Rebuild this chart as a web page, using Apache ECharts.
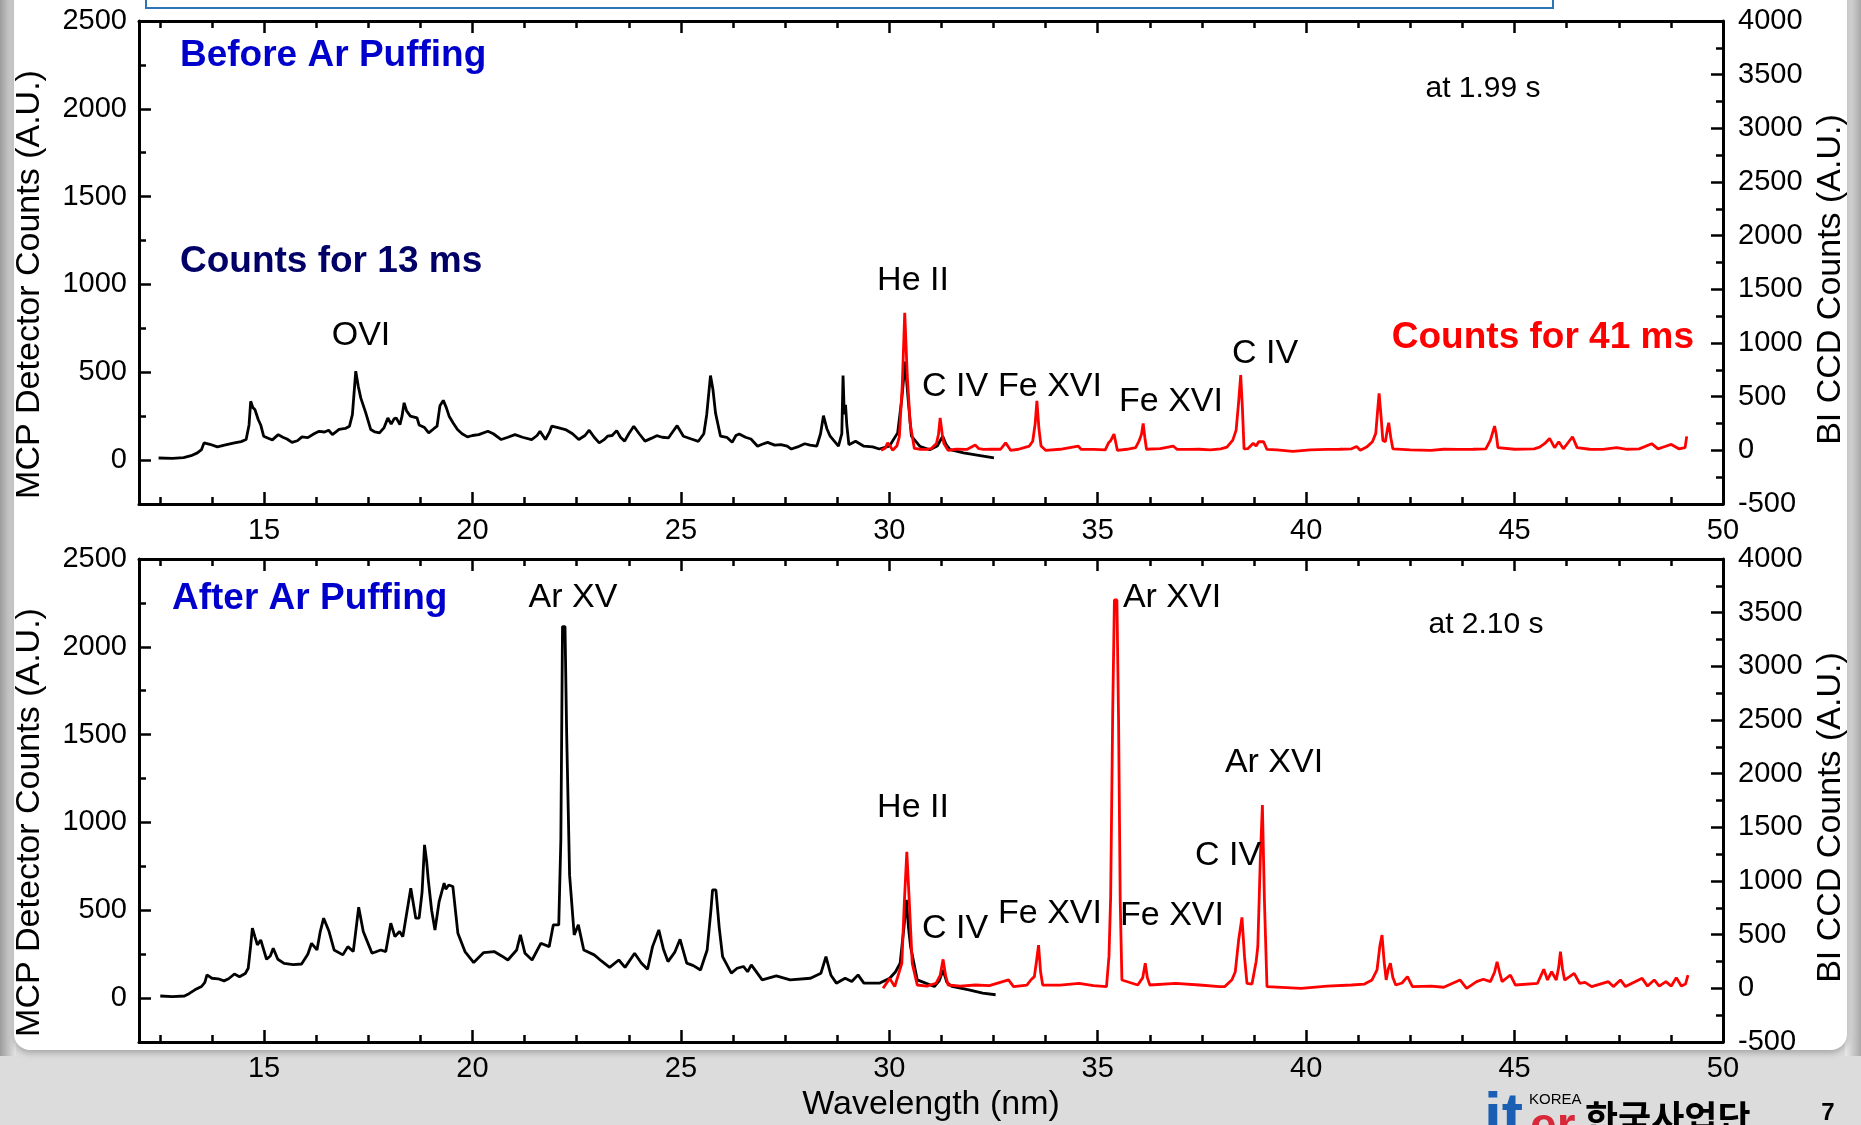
<!DOCTYPE html>
<html>
<head>
<meta charset="utf-8">
<title>EUV spectra before / after Ar puffing</title>
<script src="https://cdn.jsdelivr.net/npm/echarts@6/dist/echarts.min.js"></script>
<style>
  html, body { margin: 0; padding: 0; background: #dcdcdc; }
  #chart { width: 1861px; height: 1125px; }
</style>
</head>
<body>
<div id="chart"></div>
<script>
// ---- axis ticks ----
var xMajor = [15, 20, 25, 30, 35, 40, 45, 50];
var xMinor = [12.5, 13.75, 16.25, 17.5, 18.75, 21.25, 22.5, 23.75, 26.25, 27.5, 28.75,
  31.25, 32.5, 33.75, 36.25, 37.5, 38.75, 41.25, 42.5, 43.75, 46.25, 47.5, 48.75];
var leftMajor = [0, 500, 1000, 1500, 2000, 2500];
var leftMinor = [250, 750, 1250, 1750, 2250];
var rightMajor = [-500, 0, 500, 1000, 1500, 2000, 2500, 3000, 3500, 4000];
var rightMinor = [-250, 250, 750, 1250, 1750, 2250, 2750, 3250, 3750];

// ---- before Ar puffing (1.99 s) ----
// MCP detector, [wavelength nm, counts]
var mcpBefore = [[12.47,12],[12.8,10],[13.07,14],[13.25,25],[13.4,41],[13.5,60],[13.56,98],[13.7,90],[13.88,75],[14.05,85],
  [14.29,98],[14.45,105],[14.57,117],[14.64,200],[14.68,335],[14.73,300],[14.78,288],[14.86,231],[14.92,200],[14.99,136],
  [15.1,124],[15.2,115],[15.34,145],[15.45,130],[15.55,120],[15.67,101],[15.8,110],[15.91,132],[16.05,128],[16.2,150],
  [16.32,164],[16.45,160],[16.55,170],[16.64,145],[16.8,175],[16.95,180],[17.05,193],[17.12,260],[17.2,506],[17.26,420],
  [17.32,354],[17.44,269],[17.56,174],[17.66,160],[17.77,155],[17.88,185],[17.97,240],[18.05,205],[18.12,235],[18.17,240],
  [18.26,202],[18.31,250],[18.36,326],[18.42,280],[18.51,250],[18.6,245],[18.67,240],[18.72,200],[18.85,185],[18.95,155],
  [19.08,180],[19.15,193],[19.22,310],[19.3,340],[19.37,300],[19.44,250],[19.54,210],[19.64,174],[19.75,150],[19.88,132],
  [20.0,140],[20.15,145],[20.37,164],[20.5,150],[20.69,117],[20.85,130],[21.02,145],[21.2,130],[21.42,117],[21.55,140],
  [21.62,164],[21.75,117],[21.85,160],[21.9,193],[22.05,185],[22.23,174],[22.4,150],[22.55,117],[22.7,140],[22.8,170],
  [22.92,130],[23.04,98],[23.15,115],[23.24,136],[23.35,140],[23.46,168],[23.55,130],[23.65,108],[23.75,150],[23.87,193],
  [24.0,150],[24.14,108],[24.3,125],[24.42,139],[24.55,130],[24.7,126],[24.8,160],[24.91,196],[25.0,160],[25.06,136],
  [25.25,120],[25.42,107],[25.55,150],[25.62,260],[25.71,481],[25.77,400],[25.83,269],[25.95,136],[26.1,130],[26.23,101],
  [26.32,140],[26.4,149],[26.55,130],[26.68,120],[26.84,79],[26.95,90],[27.08,101],[27.25,85],[27.4,88],[27.55,80],
  [27.65,63],[27.8,75],[27.97,93],[28.1,85],[28.26,79],[28.35,150],[28.42,253],[28.5,180],[28.58,136],[28.78,79],
  [28.86,150],[28.89,481],[28.92,260],[28.95,315],[28.98,200],[29.03,88],[29.19,107],[29.39,79],[29.6,75],[29.76,63],
  [30.0,79],[30.2,155],[30.3,350],[30.38,560],[30.45,350],[30.53,136],[30.73,79],[30.97,59],[31.15,80],[31.28,136],
  [31.36,90],[31.46,59],[31.78,41],[32.18,26],[32.51,12]];
// BI CCD, [wavelength nm, counts]
var ccdBefore = [[29.8,0],[29.9,20],[29.96,70],[30.02,40],[30.08,0],[30.18,40],[30.24,126],[30.31,600],[30.37,1282],[30.43,700],
  [30.5,251],[30.6,18],[30.75,10],[30.89,8],[31.0,15],[31.13,64],[31.18,150],[31.22,303],[31.27,150],[31.31,64],
  [31.41,0],[31.6,10],[31.86,8],[32.06,50],[32.15,15],[32.26,8],[32.45,12],[32.67,10],[32.79,70],[32.91,0],
  [33.1,10],[33.36,40],[33.44,85],[33.5,250],[33.54,462],[33.59,200],[33.64,40],[33.75,0],[34.1,10],[34.53,40],
  [34.6,10],[34.9,8],[35.18,5],[35.26,70],[35.31,90],[35.39,151],[35.44,60],[35.47,0],[35.7,10],[35.91,25],
  [35.99,85],[36.05,150],[36.09,251],[36.13,120],[36.17,10],[36.5,15],[36.81,40],[36.9,10],[37.2,8],[37.44,10],
  [37.7,5],[37.95,14],[38.1,30],[38.24,95],[38.32,188],[38.38,450],[38.43,701],[38.47,400],[38.51,14],[38.6,15],
  [38.73,65],[38.8,40],[38.86,80],[38.98,80],[39.06,8],[39.3,5],[39.68,-10],[40.1,5],[40.51,8],[40.8,10],
  [41.09,14],[41.21,36],[41.3,0],[41.45,30],[41.59,80],[41.67,158],[41.71,350],[41.75,531],[41.8,300],[41.84,92],
  [41.9,80],[41.95,200],[41.98,257],[42.03,120],[42.08,14],[42.5,5],[42.99,0],[43.3,10],[43.66,8],[44.0,10],
  [44.31,14],[44.42,95],[44.52,226],[44.56,150],[44.6,25],[45.0,10],[45.47,14],[45.6,30],[45.72,62],[45.84,111],
  [45.96,25],[46.06,80],[46.17,14],[46.3,80],[46.39,126],[46.5,25],[46.8,10],[47.12,8],[47.45,25],[47.7,10],
  [47.99,14],[48.29,62],[48.44,14],[48.61,36],[48.76,55],[48.94,14],[49.09,25],[49.13,130]];

// ---- after Ar puffing (2.10 s) ----
var mcpAfter = [[12.51,12],[12.8,8],[13.09,12],[13.2,25],[13.34,47],[13.5,66],[13.58,90],[13.63,132],[13.75,113],[13.9,110],
  [14.04,98],[14.15,110],[14.29,137],[14.41,122],[14.55,140],[14.62,170],[14.68,300],[14.72,398],[14.78,350],[14.84,303],
  [14.92,331],[15.06,221],[15.15,240],[15.22,284],[15.33,221],[15.48,198],[15.7,190],[15.9,194],[16.05,250],[16.14,312],
  [16.27,274],[16.35,380],[16.43,455],[16.56,379],[16.68,274],[16.89,246],[17.01,293],[17.14,265],[17.2,380],[17.27,517],
  [17.38,379],[17.48,320],[17.59,255],[17.8,274],[17.92,265],[18.04,426],[18.14,350],[18.25,379],[18.33,350],[18.42,480],
  [18.52,625],[18.64,455],[18.72,455],[18.79,600],[18.85,872],[18.9,780],[18.94,673],[19.02,500],[19.1,388],[19.2,549],
  [19.32,654],[19.36,620],[19.43,644],[19.53,635],[19.6,480],[19.65,369],[19.82,265],[20.03,202],[20.27,259],[20.52,265],
  [20.7,240],[20.85,217],[21.06,274],[21.15,360],[21.26,255],[21.43,217],[21.64,312],[21.84,293],[21.94,417],[22.07,417],
  [22.12,900],[22.16,2115],[22.22,2115],[22.26,1500],[22.33,700],[22.44,360],[22.54,417],[22.67,274],[22.92,246],[23.1,210],
  [23.29,175],[23.51,217],[23.66,175],[23.89,255],[24.05,200],[24.2,164],[24.32,293],[24.47,388],[24.58,280],[24.69,208],
  [24.85,260],[24.98,335],[25.14,199],[25.3,185],[25.47,160],[25.63,274],[25.72,500],[25.76,616],[25.84,616],[25.92,400],
  [26.0,236],[26.21,142],[26.35,170],[26.5,180],[26.6,150],[26.69,189],[26.95,104],[27.29,126],[27.62,104],[28.11,113],
  [28.36,142],[28.48,236],[28.6,130],[28.73,85],[28.94,113],[29.1,94],[29.25,132],[29.39,85],[29.76,85],[30.01,113],
  [30.15,150],[30.26,199],[30.35,400],[30.41,559],[30.46,400],[30.51,293],[30.67,104],[31.08,66],[31.2,100],[31.29,160],
  [31.38,90],[31.5,66],[31.91,47],[32.24,28],[32.55,19]];
var ccdAfter = [[29.85,0],[30.01,93],[30.13,16],[30.3,233],[30.36,800],[30.42,1273],[30.48,800],[30.55,233],[30.67,31],[30.9,20],
  [31.12,47],[31.22,120],[31.29,270],[31.35,120],[31.41,31],[31.7,20],[32.07,31],[32.4,25],[32.86,78],[32.98,16],
  [33.3,30],[33.4,80],[33.48,109],[33.53,250],[33.58,403],[33.63,150],[33.68,31],[34.1,30],[34.55,47],[34.9,25],
  [35.21,16],[35.27,300],[35.31,854],[35.36,2600],[35.4,3618],[35.46,3618],[35.5,2500],[35.54,800],[35.58,78],[35.96,31],
  [36.08,100],[36.14,233],[36.19,100],[36.25,31],[36.87,47],[37.44,31],[37.92,16],[38.05,16],[38.22,80],[38.3,155],
  [38.38,450],[38.46,661],[38.52,300],[38.58,47],[38.7,40],[38.8,250],[38.84,388],[38.9,1200],[38.95,1708],[39.0,800],
  [39.06,16],[39.88,0],[40.5,20],[41.09,31],[41.4,40],[41.58,78],[41.7,171],[41.77,400],[41.82,497],[41.87,250],
  [41.92,78],[41.97,180],[42.02,233],[42.08,100],[42.15,31],[42.3,50],[42.43,109],[42.55,16],[43.0,20],[43.3,10],
  [43.69,78],[43.85,0],[44.09,62],[44.25,85],[44.42,62],[44.52,150],[44.58,248],[44.64,150],[44.7,62],[44.9,124],
  [45.02,31],[45.55,47],[45.7,177],[45.79,78],[45.89,155],[46.0,78],[46.06,200],[46.1,341],[46.15,180],[46.2,78],
  [46.32,109],[46.43,140],[46.56,47],[46.69,55],[46.85,16],[47.25,62],[47.37,16],[47.54,78],[47.66,16],[48.06,93],
  [48.19,21],[48.35,78],[48.47,21],[48.63,62],[48.76,21],[48.88,100],[49.0,21],[49.1,40],[49.16,124]];

var FONT = '"Liberation Sans", Arial, sans-serif';
var INK = '#000000';

var chart = echarts.init(document.getElementById('chart'));

function plain(v) { return String(v); }

function tickAxis(extra) {
  return Object.assign({
    type: 'value',
    splitLine: { show: false },
    axisLine: { show: false, onZero: false },
    axisLabel: { show: false },
    axisTick: { show: true, inside: true, length: 7, lineStyle: { color: INK, width: 2.5 } }
  }, extra);
}

function xAxesFor(g, withName) {
  var lim = { gridIndex: g, min: 12, max: 50 };
  var main = Object.assign({}, lim, {
    type: 'value',
    position: 'bottom',
    splitLine: { show: false },
    axisLine: { show: true, onZero: false, lineStyle: { color: INK, width: 3 } },
    axisTick: { show: true, inside: true, length: 12, customValues: xMajor, lineStyle: { color: INK, width: 2.5 } },
    axisLabel: { show: true, customValues: xMajor, formatter: plain, margin: 12, fontSize: 29, color: INK, fontFamily: FONT }
  });
  if (withName) {
    main.name = 'Wavelength (nm)';
    main.nameLocation = 'middle';
    main.nameGap = 46;
    main.nameTextStyle = { fontSize: 34, color: INK, fontFamily: FONT };
  }
  return [
    main,
    tickAxis(Object.assign({}, lim, { position: 'bottom', axisTick: { show: true, inside: true, length: 7, customValues: xMinor, lineStyle: { color: INK, width: 2.5 } } })),
    tickAxis(Object.assign({}, lim, { position: 'top', axisLine: { show: true, onZero: false, lineStyle: { color: INK, width: 3 } },
      axisTick: { show: true, inside: true, length: 12, customValues: xMajor, lineStyle: { color: INK, width: 2.5 } } })),
    tickAxis(Object.assign({}, lim, { position: 'top', axisTick: { show: true, inside: true, length: 7, customValues: xMinor, lineStyle: { color: INK, width: 2.5 } } }))
  ];
}

function yAxesFor(g) {
  var L = { gridIndex: g, min: -250, max: 2500 };
  var R = { gridIndex: g, min: -500, max: 4000 };
  return [
    Object.assign({}, L, {
      type: 'value', position: 'left',
      splitLine: { show: false },
      axisLine: { show: true, onZero: false, lineStyle: { color: INK, width: 3 } },
      axisTick: { show: true, inside: true, length: 12, customValues: leftMajor, lineStyle: { color: INK, width: 2.5 } },
      axisLabel: { show: true, customValues: leftMajor, formatter: plain, margin: 12, fontSize: 29, color: INK, fontFamily: FONT },
      name: 'MCP Detector Counts (A.U.)', nameLocation: 'middle', nameGap: 92,
      nameTextStyle: { fontSize: 34, color: INK, fontFamily: FONT, padding: [0, 44, 0, 0] }
    }),
    tickAxis(Object.assign({}, L, { position: 'left', axisTick: { show: true, inside: true, length: 7, customValues: leftMinor, lineStyle: { color: INK, width: 2.5 } } })),
    Object.assign({}, R, {
      type: 'value', position: 'right',
      splitLine: { show: false },
      axisLine: { show: true, onZero: false, lineStyle: { color: INK, width: 3 } },
      axisTick: { show: true, inside: true, length: 12, customValues: rightMajor, lineStyle: { color: INK, width: 2.5 } },
      axisLabel: { show: true, customValues: rightMajor, formatter: plain, margin: 15, fontSize: 29, color: INK, fontFamily: FONT },
      name: 'BI CCD Counts (A.U.)', nameLocation: 'middle', nameGap: 88,
      nameTextStyle: { fontSize: 34, color: INK, fontFamily: FONT, padding: [0, 34, 0, 0] }
    }),
    tickAxis(Object.assign({}, R, { position: 'right', axisTick: { show: true, inside: true, length: 7, customValues: rightMinor, lineStyle: { color: INK, width: 2.5 } } }))
  ];
}

function spectrum(data, color, xi, yi) {
  return {
    type: 'line', data: data, xAxisIndex: xi, yAxisIndex: yi,
    showSymbol: false, symbol: 'none', smooth: false, clip: true,
    lineStyle: { color: color, width: 2.8 }, silent: true
  };
}

function txt(text, x, y, opts) {
  opts = opts || {};
  return {
    type: 'text', x: x, y: y, z: 100, silent: true,
    style: {
      text: text,
      fill: opts.fill || INK,
      font: (opts.weight || 'normal') + ' ' + (opts.size || 34) + 'px ' + (opts.family || FONT),
      align: opts.align || 'center',
      verticalAlign: opts.valign || 'middle'
    }
  };
}

var BLUE = '#0000CC', NAVY = '#000066', RED = '#FF0000';

chart.setOption({
  animation: false,
  backgroundColor: '#dcdcdc',
  grid: [
    { left: 139, top: 21, width: 1584, height: 483, containLabel: false },
    { left: 139, top: 559, width: 1584, height: 483, containLabel: false }
  ],
  xAxis: xAxesFor(0, false).concat(xAxesFor(1, true)),
  yAxis: yAxesFor(0).concat(yAxesFor(1)),
  series: [
    spectrum(mcpBefore, INK, 0, 0),
    spectrum(ccdBefore, RED, 0, 2),
    spectrum(mcpAfter, INK, 4, 4),
    spectrum(ccdAfter, RED, 4, 6)
  ],
  graphic: [
    // slide frame
    { type: 'rect', z: -20, silent: true, shape: { x: 0, y: 0, width: 16, height: 1056 },
      style: { fill: new echarts.graphic.LinearGradient(0, 0, 1, 0, [{ offset: 0, color: '#9c9c9c' }, { offset: 1, color: '#e6e6e6' }]) } },
    { type: 'rect', z: -20, silent: true, shape: { x: 1845, y: 0, width: 16, height: 1056 },
      style: { fill: new echarts.graphic.LinearGradient(0, 0, 1, 0, [{ offset: 0, color: '#ececec' }, { offset: 1, color: '#a8a8a8' }]) } },
    { type: 'rect', z: -10, silent: true, shape: { x: 14, y: -30, width: 1833, height: 1080, r: 16 },
      style: { fill: '#ffffff', shadowBlur: 6, shadowColor: 'rgba(0,0,0,0.25)', shadowOffsetY: 3 } },
    { type: 'rect', z: -5, silent: true, shape: { x: 146, y: -10, width: 1407, height: 18 },
      style: { fill: '#ffffff', stroke: '#2e75b6', lineWidth: 2 } },

    // top panel
    txt('Before Ar Puffing', 180, 56, { fill: BLUE, weight: 'bold', size: 37, align: 'left' }),
    txt('Counts for 13 ms', 180, 262, { fill: NAVY, weight: 'bold', size: 37, align: 'left' }),
    txt('Counts for 41 ms', 1694, 338, { fill: RED, weight: 'bold', size: 37, align: 'right' }),
    txt('at 1.99 s', 1483, 89, { size: 30 }),
    txt('OVI', 361, 336),
    txt('He II', 913, 281),
    txt('C IV', 955, 387),
    txt('Fe XVI', 1050, 387),
    txt('Fe XVI', 1171, 402),
    txt('C IV', 1265, 354),

    // bottom panel
    txt('After Ar Puffing', 172, 599, { fill: BLUE, weight: 'bold', size: 37, align: 'left' }),
    txt('at 2.10 s', 1486, 625, { size: 30 }),
    txt('Ar XV', 573, 598),
    txt('Ar XVI', 1172, 598),
    txt('He II', 913, 808),
    txt('C IV', 955, 929),
    txt('Fe XVI', 1050, 914),
    txt('Fe XVI', 1172, 916),
    txt('C IV', 1228, 856),
    txt('Ar XVI', 1274, 763),

    // footer logo and page number
    txt('it', 1484, 1088, { fill: '#1a5fb4', weight: 'bold', size: 64, align: 'left', valign: 'top' }),
    txt('er', 1530, 1104, { fill: '#d8283a', weight: 'bold', size: 48, align: 'left', valign: 'top' }),
    txt('KOREA', 1529, 1100, { size: 15, align: 'left' }),
    txt('한국사업단', 1585, 1100, { weight: 'bold', size: 36, align: 'left', valign: 'top', family: '"Noto Sans CJK KR", sans-serif' }),
    txt('7', 1828, 1113, { weight: 'bold', size: 24 })
  ]
});

window.addEventListener('resize', function() { chart.resize(); });
</script>
</body>
</html>
